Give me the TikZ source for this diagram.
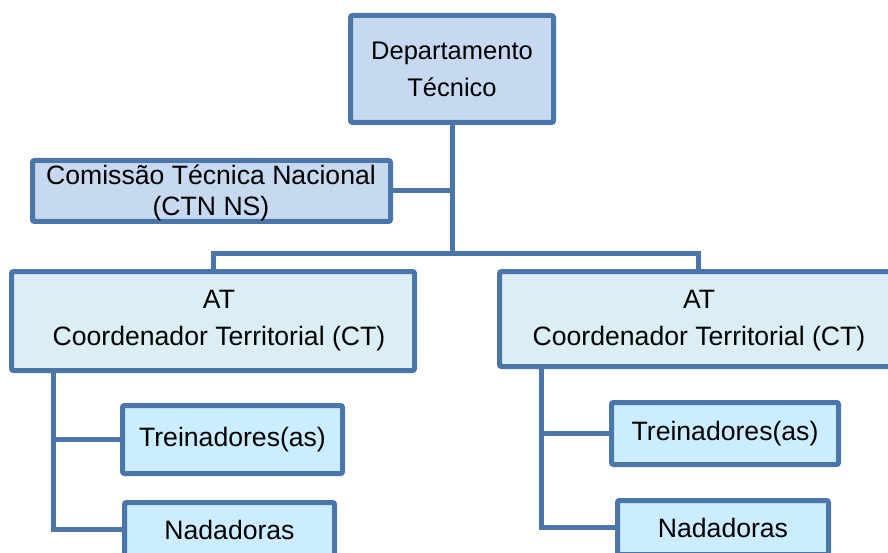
\documentclass[tikz,border=0pt]{standalone}
\usepackage{fontspec}
\setmainfont{Liberation Sans}
\definecolor{edge}{RGB}{74,118,170}
\definecolor{fillA}{RGB}{198,217,241}
\definecolor{fillB}{RGB}{219,238,243}
\definecolor{fillC}{RGB}{204,236,255}
\tikzset{
  box/.style={draw=edge, line width=5pt, rounded corners=2pt, inner sep=0pt, align=center, text=black},
  conn/.style={draw=edge, line width=5pt},
  big/.style={font=\fontsize{26.6}{37}\selectfont},
}
\begin{document}
\begin{tikzpicture}[x=1pt,y=-1pt]
\useasboundingbox (0,0) rectangle (888,553);
\clip (0,0) rectangle (888,553);
% boxes
\node[box, fill=fillA, minimum width=203pt, minimum height=107pt, font=\fontsize{25.5}{37}\selectfont] (dept) at (452,69) {Departamento\\Técnico};
\node[box, fill=fillA, minimum width=358pt, minimum height=61pt] (ctn) at (211.5,191) {};
\node[align=center, inner sep=0pt, font=\fontsize{26.6}{31}\selectfont] (ctntxt) at (211,193) {Comissão Técnica Nacional\\(CTN NS)};
\node[box, fill=fillB, minimum width=403pt, minimum height=99pt] (atL) at (213,321) {};
\node[big, align=center, inner sep=0pt] (atLtxt) at (219,321) {AT\\Coordenador Territorial (CT)};
\node[box, fill=fillB, minimum width=397pt, minimum height=95pt] (atR) at (698,319) {};
\node[big, align=center, inner sep=0pt] (atRtxt) at (699,321) {AT\\Coordenador Territorial (CT)};
\node[box, fill=fillC, minimum width=220pt, minimum height=68pt, big] (treL) at (232.5,439.5) {Treinadores(as)};
\node[box, fill=fillC, minimum width=210pt, minimum height=54pt, big] (nadL) at (229.5,529.5) {Nadadoras};
\node[box, fill=fillC, minimum width=227pt, minimum height=62pt, big] (treR) at (725,433.5) {Treinadores(as)};
\node[box, fill=fillC, minimum width=211pt, minimum height=54pt, big] (nadR) at (723,527.5) {Nadadoras};
% connectors
\coordinate (j) at (452,254);
\draw[conn] (dept.south) -- (j);
\draw[conn] (ctn.east) -- (ctn.east -| j);
\draw[conn] (atL.north) |- (j) -| (atR.north);
\coordinate (vL) at (53,372);
\draw[conn] (vL) |- (nadL.west);
\draw[conn] (vL |- treL.west) -- (treL.west);
\coordinate (vR) at (541,368);
\draw[conn] (vR) |- (nadR.west);
\draw[conn] (vR |- treR.west) -- (treR.west);
\end{tikzpicture}
\end{document}
